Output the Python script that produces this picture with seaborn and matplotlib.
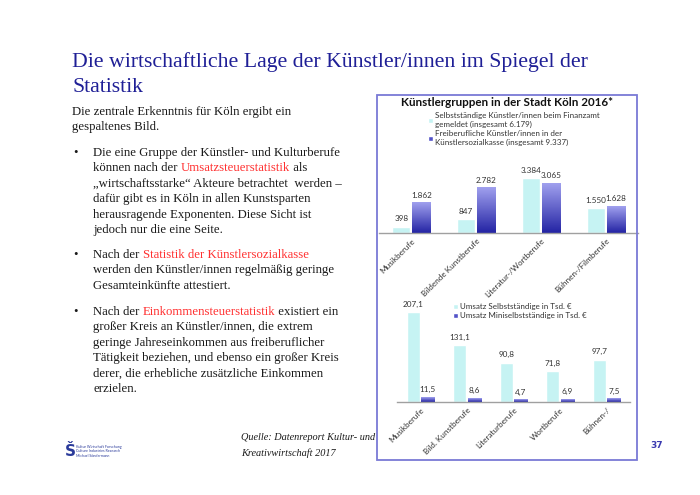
import numpy as np
import pandas as pd
import matplotlib
matplotlib.use("Agg")
import matplotlib.pyplot as plt
from matplotlib.patches import Rectangle
from matplotlib.colors import LinearSegmentedColormap
import seaborn as sns

# Künstlergruppen in der Stadt Köln 2016
groups = ["Musikberufe", "Bildende Kunstberufe", "Literatur-/Wortberufe", "Bühnen-/Filmberufe"]
finanzamt = [398, 847, 3384, 1550]
ksk = [1862, 2782, 3065, 1628]
label_fa = "Selbstständige Künstler/innen beim Finanzamt\ngemeldet (insgesamt 6.179)"
label_ksk = "Freiberufliche Künstler/innen in der\nKünstlersozialkasse (insgesamt 9.337)"

# Umsatz in Tsd. Euro
sparten = ["Musikberufe", "Bild. Kunstberufe", "Literaturberufe", "Wortberufe", "Bühnen-/"]
umsatz_selbst = [207.1, 131.1, 90.8, 71.8, 97.7]
umsatz_mini = [11.5, 8.6, 4.7, 6.9, 7.5]
label_us = "Umsatz Selbstständige in Tsd. €"
label_um = "Umsatz Miniselbstständige in Tsd. €"

LIGHT = "#c6f3f3"
DARK = "#5252c8"
RED = "#ff3030"
NAVY = "#1f1f96"
TXT = "#1a1a1a"
SANS = "Lato"
SERIF = "Liberation Serif"

W, H = 700, 495
sns.set_theme(style="white")
fig = plt.figure(figsize=(7, 4.95), dpi=100)
renderer = fig.canvas.get_renderer()


def fx(px):
    return px / W


def fy(py):
    return 1 - py / H


def rect(l, t, r, b):
    return [l / W, 1 - b / H, (r - l) / W, (b - t) / H]


def de_int(v):
    return f"{v:,}".replace(",", ".")


def de_dec(v):
    return f"{v:.1f}".replace(".", ",")


def text_width(s, size, family, style="normal"):
    t = fig.text(0, 0, s + "x", fontsize=size, family=family, style=style)
    t2 = fig.text(0, 0, "x", fontsize=size, family=family, style=style)
    w = t.get_window_extent(renderer).width - t2.get_window_extent(renderer).width
    t.remove()
    t2.remove()
    return w


def put_line(x, y, parts, size=9.2, family=SERIF, style="normal"):
    for s, col in parts:
        fig.text(fx(x), fy(y), s, color=col, fontsize=size, family=family,
                 style=style, va="center", ha="left")
        x += text_width(s, size, family, style)


def gradient_bars(ax, container, top, bottom):
    cmap = LinearSegmentedColormap.from_list("bar", [bottom, top])
    for bar in container:
        x0, y0 = bar.get_xy()
        ax.imshow(np.linspace(0, 1, 64).reshape(-1, 1), origin="lower", aspect="auto",
                  extent=[x0, x0 + bar.get_width(), y0, y0 + bar.get_height()],
                  cmap=cmap, zorder=bar.get_zorder() + 0.1)


def style_axes(ax, labels, ymax):
    ax.set_ylim(0, ymax)
    ax.set_xlim(-0.5, len(labels) - 0.5)
    ax.set_yticks([])
    ax.set_xlabel("")
    ax.set_ylabel("")
    for side in ["left", "top", "right"]:
        ax.spines[side].set_visible(False)
    ax.spines["bottom"].set_color("#a0a0a0")
    ax.spines["bottom"].set_linewidth(1)
    ax.spines["bottom"].set_zorder(5)
    ax.set_facecolor("none")
    ax.set_xticks(range(len(labels)))
    ax.set_xticklabels(labels, rotation=45, ha="right", rotation_mode="anchor",
                       fontsize=5.9, family=SANS, color="#333333")
    ax.tick_params(axis="x", length=0, pad=3)


def legend_at(ax, x, y, spacing):
    h, l = ax.get_legend_handles_labels()
    leg = ax.legend(h, l, loc="upper left", bbox_to_anchor=(fx(x), fy(y)),
                    bbox_transform=fig.transFigure, frameon=False,
                    prop={"family": SANS, "size": 5.8}, handlelength=0.6,
                    handleheight=0.6, handletextpad=0.3, labelspacing=spacing,
                    borderpad=0, borderaxespad=0)
    for t in leg.get_texts():
        t.set_linespacing(1.3)
        t.set_color("#333333")


# ---- slide title and text ----
fig.text(fx(72), fy(62), "Die wirtschaftliche Lage der Künstler/innen im Spiegel der",
         fontsize=15.7, family=SERIF, color=NAVY, va="center")
fig.text(fx(72), fy(87), "Statistik", fontsize=15.7, family=SERIF, color=NAVY, va="center")

put_line(72, 112, [("Die zentrale Erkenntnis für Köln ergibt ein", TXT)])
put_line(72, 127, [("gespaltenes Bild.", TXT)])

bullets = [
    (153, [
        [("Die eine Gruppe der Künstler- und Kulturberufe", TXT)],
        [("können nach der ", TXT), ("Umsatzsteuerstatistik", RED), (" als", TXT)],
        [("„wirtschaftsstarke“ Akteure betrachtet  werden –", TXT)],
        [("dafür gibt es in Köln in allen Kunstsparten", TXT)],
        [("herausragende Exponenten. Diese Sicht ist", TXT)],
        [("jedoch nur die eine Seite.", TXT)],
    ]),
    (255, [
        [("Nach der ", TXT), ("Statistik der Künstlersozialkasse", RED)],
        [("werden den Künstler/innen regelmäßig geringe", TXT)],
        [("Gesamteinkünfte attestiert.", TXT)],
    ]),
    (312, [
        [("Nach der ", TXT), ("Einkommensteuerstatistik", RED), (" existiert ein", TXT)],
        [("großer Kreis an Künstler/innen, die extrem", TXT)],
        [("geringe Jahreseinkommen aus freiberuflicher", TXT)],
        [("Tätigkeit beziehen, und ebenso ein großer Kreis", TXT)],
        [("derer, die erhebliche zusätzliche Einkommen", TXT)],
        [("erzielen.", TXT)],
    ]),
]
for y0, lines in bullets:
    fig.text(fx(73), fy(y0), "•", fontsize=9.2, family=SERIF, color=TXT, va="center")
    for i, parts in enumerate(lines):
        put_line(93, y0 + i * 15.4, parts)

fig.text(fx(241), fy(437), "Quelle: Datenreport Kultur- und", fontsize=7.4, family=SERIF,
         style="italic", color=TXT, va="center")
fig.text(fx(241), fy(453), "Kreativwirtschaft 2017", fontsize=7.4, family=SERIF,
         style="italic", color=TXT, va="center")

# logo + page number
fig.text(fx(65), fy(452), "Š", fontsize=11, family="DejaVu Sans", weight="bold",
         color="#2a3a9a", va="center")
for i, s in enumerate(["Kultur Wirtschaft Forschung", "Culture Industries Research",
                       "Michael Söndermann"]):
    fig.text(fx(76), fy(447 + i * 4.3), s, fontsize=2.6, family=SANS, color="#2a3a9a",
             va="center")
fig.text(fx(650), fy(446), "37", fontsize=6.5, family="DejaVu Sans", weight="bold",
         color="#3a3ab0", va="center")

# chart frame
fig.patches.append(Rectangle((fx(377), fy(460)), fx(637) - fx(377), fy(95) - fy(460),
                             transform=fig.transFigure, fill=False,
                             edgecolor="#7a7ad6", linewidth=1.3))
fig.text(fx(507), fy(103), "Künstlergruppen in der Stadt Köln 2016*", fontsize=8.4,
         family=SANS, weight="bold", color="#111111", ha="center", va="center")

# ---- top chart ----
df1 = pd.DataFrame({
    "gruppe": groups * 2,
    "serie": [label_fa] * len(groups) + [label_ksk] * len(groups),
    "anzahl": finanzamt + ksk,
})
ax1 = fig.add_axes(rect(379, 155, 638, 233))
sns.barplot(data=df1, x="gruppe", y="anzahl", hue="serie", palette=[LIGHT, DARK],
            width=0.62, gap=0.1, saturation=1, ax=ax1)
gradient_bars(ax1, ax1.containers[1], "#a0a0ee", "#2424a4")
for cont, vals in zip(ax1.containers, [finanzamt, ksk]):
    ax1.bar_label(cont, labels=[de_int(v) for v in vals], padding=3, fontsize=5.9,
                  family=SANS, color="#333333")
style_axes(ax1, groups, 3384 * 78 / 55)
legend_at(ax1, 428, 112, 0.25)

# ---- bottom chart ----
df2 = pd.DataFrame({
    "sparte": sparten * 2,
    "serie": [label_us] * len(sparten) + [label_um] * len(sparten),
    "umsatz": umsatz_selbst + umsatz_mini,
})
ax2 = fig.add_axes(rect(397, 300, 630, 402))
sns.barplot(data=df2, x="sparte", y="umsatz", hue="serie", palette=[LIGHT, DARK],
            width=0.62, gap=0.1, saturation=1, ax=ax2)
gradient_bars(ax2, ax2.containers[1], "#a0a0ee", "#2424a4")
for cont, vals in zip(ax2.containers, [umsatz_selbst, umsatz_mini]):
    ax2.bar_label(cont, labels=[de_dec(v) for v in vals], padding=3, fontsize=5.9,
                  family=SANS, color="#333333")
style_axes(ax2, sparten, 207.1 * 102 / 90)
legend_at(ax2, 453, 303, 0.3)

fig.savefig("out.png", dpi=100, facecolor="white")
